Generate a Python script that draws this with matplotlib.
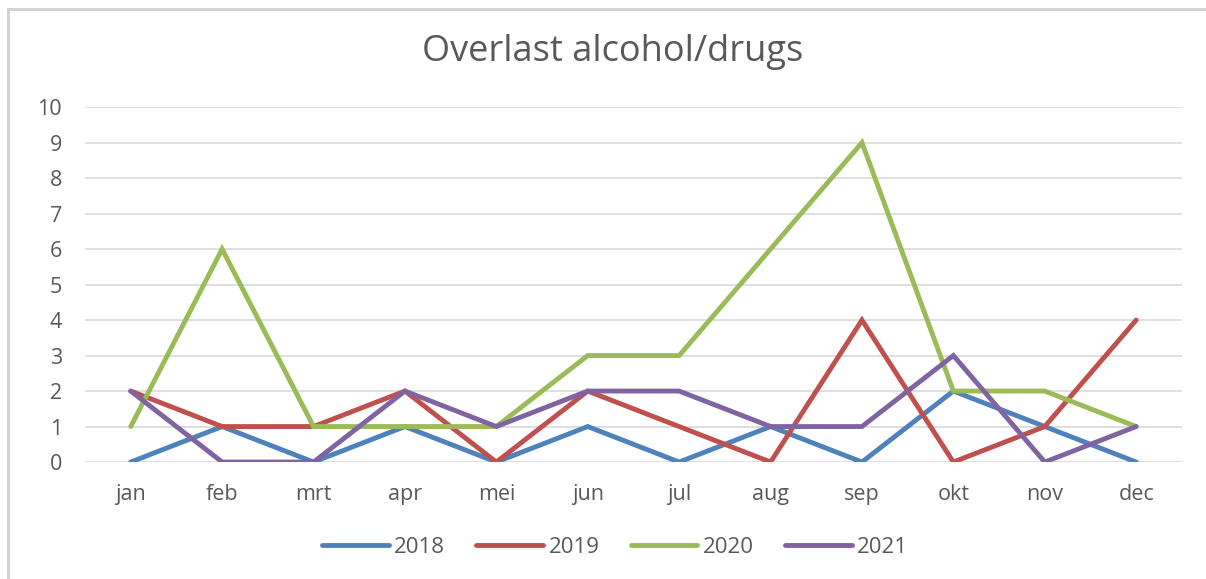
import matplotlib.pyplot as plt
from matplotlib.lines import Line2D

months = ["jan", "feb", "mrt", "apr", "mei", "jun", "jul", "aug", "sep", "okt", "nov", "dec"]
years = ["2018", "2019", "2020", "2021"]
v2018 = [0, 1, 0, 1, 0, 1, 0, 1, 0, 2, 1, 0]
v2019 = [2, 1, 1, 2, 0, 2, 1, 0, 4, 0, 1, 4]
v2020 = [1, 6, 1, 1, 1, 3, 3, 6, 9, 2, 2, 1]
v2021 = [2, 0, 0, 2, 1, 2, 2, 1, 1, 3, 0, 1]
colors = ["#4F81BD", "#C0504D", "#9BBB59", "#8064A2"]

TEXT = "#595959"
plt.rcParams["font.family"] = ["Open Sans", "DejaVu Sans"]

fig = plt.figure(figsize=(12.06, 5.79), dpi=100)
ax = fig.add_axes([0.0705, 0.202, 0.9095, 0.613])

x = list(range(len(months)))
for name, vals, c in zip(years, [v2018, v2019, v2020, v2021], colors):
    ax.plot(x, vals, color=c, lw=3.5, label=name, solid_capstyle="round",
            solid_joinstyle="miter")

ax.set_xlim(-0.5, len(months) - 0.5)
ax.set_ylim(0, 10)
ax.set_yticks(range(0, 11))
ax.set_xticks(x)
ax.set_xticklabels(months)
ax.tick_params(length=0, labelsize=15.5, colors=TEXT)
ax.tick_params(axis="x", pad=16)
ax.tick_params(axis="y", pad=16.5)
ax.grid(axis="y", color="#D9D9D9", lw=1.2)
ax.set_axisbelow(True)
for s in ax.spines.values():
    s.set_visible(False)

fig.text(0.508, 0.91, "Overlast alcohol/drugs", ha="center", va="center",
         fontsize=26, color=TEXT)

handles = [Line2D([0], [0], color=c, lw=3.5, solid_capstyle="round") for c in colors]
fig.legend(handles, years, loc="center", bbox_to_anchor=(0.51, 0.055), ncol=4,
           frameon=False, fontsize=16, labelcolor=TEXT, handlelength=3.0,
           handletextpad=0.25, columnspacing=1.4)

# chart frame (left and top edges visible in the reference)
fig.add_artist(Line2D([8 / 1206, 8 / 1206], [0, 1 - 9 / 579], color="#D0D0D0", lw=2.0))
fig.add_artist(Line2D([8 / 1206, 1], [1 - 9 / 579, 1 - 9 / 579], color="#D0D0D0", lw=2.0))

fig.savefig("out.png", dpi=100)
